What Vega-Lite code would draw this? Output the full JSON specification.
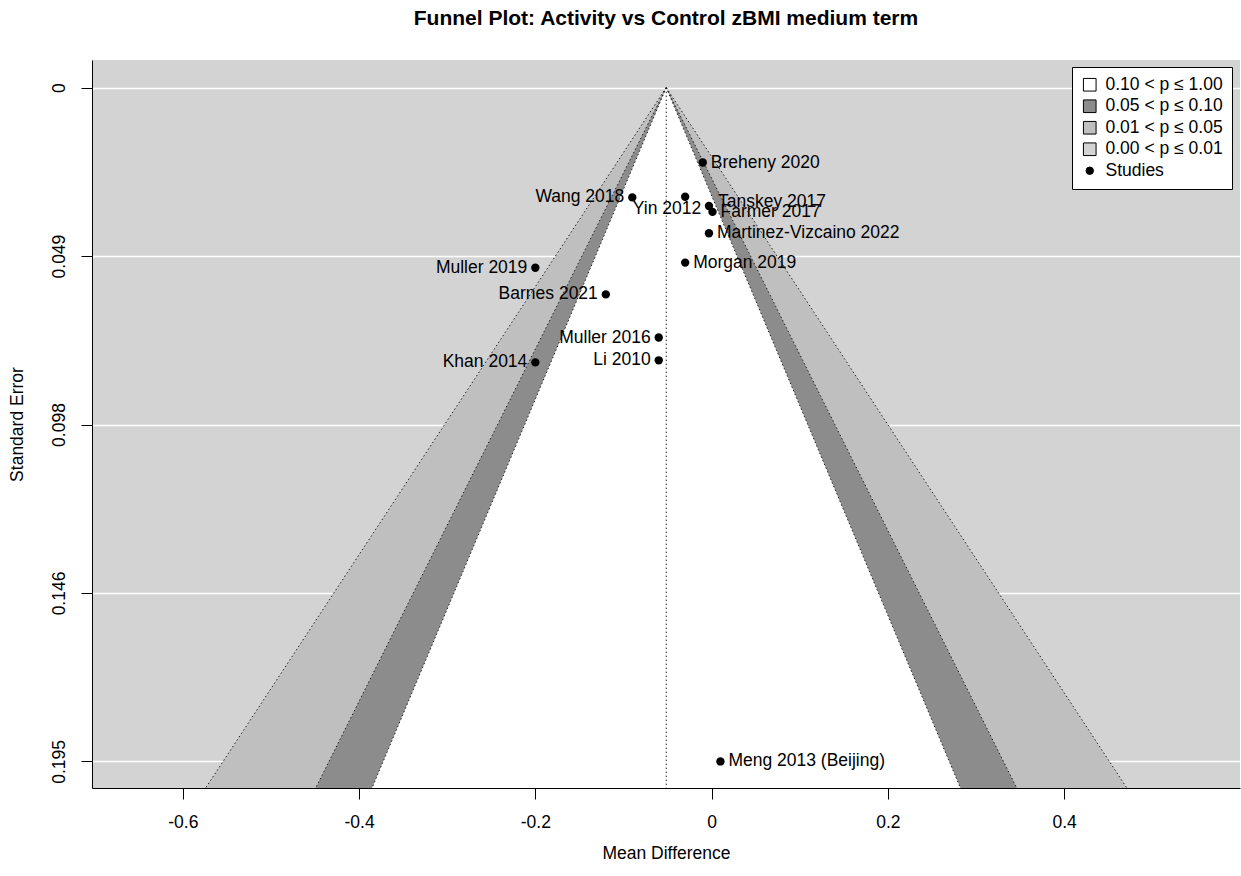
{
  "$schema": "https://vega.github.io/schema/vega-lite/v6.json",
  "width": 1148,
  "height": 728,
  "autosize": {"type": "none"},
  "padding": {"left": 92, "top": 60, "right": 1, "bottom": 88},
  "background": "white",
  "title": {
    "text": "Funnel Plot: Activity vs Control zBMI medium term",
    "font": "Liberation Sans",
    "fontSize": 21,
    "fontWeight": "bold",
    "color": "black",
    "anchor": "middle",
    "frame": "group",
    "baseline": "alphabetic",
    "offset": 14
  },
  "datasets": {
    "regions": [
      {"grp": "0.01 < p ≤ 0.05", "se": 0, "lo": -0.0515, "hi": -0.0515},
      {"grp": "0.01 < p ≤ 0.05", "se": 0.2029, "lo": -0.5741, "hi": 0.4711},
      {"grp": "0.05 < p ≤ 0.10", "se": 0, "lo": -0.0515, "hi": -0.0515},
      {"grp": "0.05 < p ≤ 0.10", "se": 0.2029, "lo": -0.4492, "hi": 0.3462},
      {"grp": "0.10 < p ≤ 1.00", "se": 0, "lo": -0.0515, "hi": -0.0515},
      {"grp": "0.10 < p ≤ 1.00", "se": 0.2029, "lo": -0.3853, "hi": 0.2823}
    ],
    "edges": [
      {"edge": "center", "x": -0.0515, "se": 0},
      {"edge": "center", "x": -0.0515, "se": 0.2029},
      {"edge": "l10", "x": -0.0515, "se": 0},
      {"edge": "l10", "x": -0.3853, "se": 0.2029},
      {"edge": "r10", "x": -0.0515, "se": 0},
      {"edge": "r10", "x": 0.2823, "se": 0.2029},
      {"edge": "l05", "x": -0.0515, "se": 0},
      {"edge": "l05", "x": -0.4492, "se": 0.2029},
      {"edge": "r05", "x": -0.0515, "se": 0},
      {"edge": "r05", "x": 0.3462, "se": 0.2029},
      {"edge": "l01", "x": -0.0515, "se": 0},
      {"edge": "l01", "x": -0.5741, "se": 0.2029},
      {"edge": "r01", "x": -0.0515, "se": 0},
      {"edge": "r01", "x": 0.4711, "se": 0.2029}
    ],
    "studies": [
      {"study": "Breheny 2020", "x": -0.010, "se": 0.0217},
      {"study": "Wang 2018", "x": -0.090, "se": 0.0318},
      {"study": "Yin 2012", "x": -0.030, "se": 0.0316},
      {"study": "Tanskey 2017", "x": -0.003, "se": 0.0343},
      {"study": "Farmer 2017", "x": 0.001, "se": 0.0360},
      {"study": "Martinez-Vizcaino 2022", "x": -0.003, "se": 0.0422},
      {"study": "Morgan 2019", "x": -0.030, "se": 0.0507},
      {"study": "Muller 2019", "x": -0.200, "se": 0.0522},
      {"study": "Barnes 2021", "x": -0.120, "se": 0.0599},
      {"study": "Muller 2016", "x": -0.060, "se": 0.0724},
      {"study": "Li 2010", "x": -0.060, "se": 0.0790},
      {"study": "Khan 2014", "x": -0.200, "se": 0.0796},
      {"study": "Meng 2013 (Beijing)", "x": 0.010, "se": 0.1952}
    ]
  },
  "layer": [
    {
      "data": {"name": "regions"},
      "transform": [{"filter": "datum.grp === '0.01 < p ≤ 0.05'"}],
      "mark": {"type": "area", "orient": "horizontal", "opacity": 1, "fillOpacity": 1},
      "encoding": {
        "y": {"field": "se", "type": "quantitative", "scale": {"domain": [-0.008, 0.2029], "reverse": true, "nice": false, "zero": false},
          "axis": {"values": [0, 0.0488, 0.0976, 0.1464, 0.1952], "labelExpr": "format(datum.value, '.3~f')", "title": "Standard Error"}},
        "x": {"field": "lo", "type": "quantitative", "scale": {"domain": [-0.703, 0.5995], "nice": false, "zero": false},
          "axis": {"values": [-0.6, -0.4, -0.2, 0, 0.2, 0.4], "labelExpr": "'' + datum.value", "title": "Mean Difference"}},
        "x2": {"field": "hi"},
        "fill": {"field": "grp", "type": "nominal",
          "scale": {"domain": ["0.10 < p ≤ 1.00", "0.05 < p ≤ 0.10", "0.01 < p ≤ 0.05", "0.00 < p ≤ 0.01", "Studies"],
                    "range": ["#FFFFFF", "#8C8C8C", "#BFBFBF", "#D3D3D3", "#000000"]},
          "legend": {
            "title": null,
            "encode": {
              "symbols": {
                "update": {
                  "shape": {"signal": "datum.value === 'Studies' ? 'circle' : 'square'"},
                  "size": {"signal": "datum.value === 'Studies' ? 55 : 160"}
                }
              }
            }
          }}
      }
    },
    {
      "data": {"name": "regions"},
      "transform": [{"filter": "datum.grp === '0.05 < p ≤ 0.10'"}],
      "mark": {"type": "area", "orient": "horizontal", "opacity": 1, "fillOpacity": 1},
      "encoding": {
        "y": {"field": "se", "type": "quantitative"},
        "x": {"field": "lo", "type": "quantitative"},
        "x2": {"field": "hi"},
        "fill": {"field": "grp", "type": "nominal"}
      }
    },
    {
      "data": {"name": "regions"},
      "transform": [{"filter": "datum.grp === '0.10 < p ≤ 1.00'"}],
      "mark": {"type": "area", "orient": "horizontal", "opacity": 1, "fillOpacity": 1},
      "encoding": {
        "y": {"field": "se", "type": "quantitative"},
        "x": {"field": "lo", "type": "quantitative"},
        "x2": {"field": "hi"},
        "fill": {"field": "grp", "type": "nominal"}
      }
    },
    {
      "data": {"name": "edges"},
      "mark": {"type": "line", "color": "#222222", "strokeWidth": 1, "strokeDash": [1.5, 2.5]},
      "encoding": {
        "x": {"field": "x", "type": "quantitative"},
        "y": {"field": "se", "type": "quantitative"},
        "detail": {"field": "edge"},
        "order": {"field": "se"}
      }
    },
    {
      "data": {"name": "studies"},
      "mark": {"type": "circle", "color": "black", "opacity": 1, "size": 70},
      "encoding": {
        "x": {"field": "x", "type": "quantitative"},
        "y": {"field": "se", "type": "quantitative"}
      }
    },
    {
      "data": {"name": "studies"},
      "transform": [{"filter": {"field": "study", "oneOf": ["Breheny 2020", "Farmer 2017", "Martinez-Vizcaino 2022", "Morgan 2019", "Meng 2013 (Beijing)"]}}],
      "mark": {"type": "text", "align": "left", "baseline": "middle", "dx": 8, "font": "Liberation Sans", "fontSize": 17.5, "color": "black"},
      "encoding": {
        "x": {"field": "x", "type": "quantitative"},
        "y": {"field": "se", "type": "quantitative"},
        "text": {"field": "study"}
      }
    },
    {
      "data": {"name": "studies"},
      "transform": [{"filter": {"field": "study", "oneOf": ["Wang 2018", "Muller 2019", "Barnes 2021", "Muller 2016", "Li 2010", "Khan 2014"]}}],
      "mark": {"type": "text", "align": "right", "baseline": "middle", "dx": -8, "font": "Liberation Sans", "fontSize": 17.5, "color": "black"},
      "encoding": {
        "x": {"field": "x", "type": "quantitative"},
        "y": {"field": "se", "type": "quantitative"},
        "text": {"field": "study"}
      }
    },
    {
      "data": {"name": "studies"},
      "transform": [{"filter": {"field": "study", "equal": "Tanskey 2017"}}],
      "mark": {"type": "text", "align": "left", "baseline": "middle", "dx": 9, "dy": -4, "font": "Liberation Sans", "fontSize": 17.5, "color": "black"},
      "encoding": {
        "x": {"field": "x", "type": "quantitative"},
        "y": {"field": "se", "type": "quantitative"},
        "text": {"field": "study"}
      }
    },
    {
      "data": {"name": "studies"},
      "transform": [{"filter": {"field": "study", "equal": "Yin 2012"}}],
      "mark": {"type": "text", "align": "right", "baseline": "middle", "dx": 16, "dy": 12, "font": "Liberation Sans", "fontSize": 17.5, "color": "black"},
      "encoding": {
        "x": {"field": "x", "type": "quantitative"},
        "y": {"field": "se", "type": "quantitative"},
        "text": {"field": "study"}
      }
    }
  ],
  "config": {
    "view": {"fill": "#D3D3D3", "stroke": null},
    "axis": {
      "labelFont": "Liberation Sans",
      "labelFontSize": 17.5,
      "labelColor": "black",
      "titleFont": "Liberation Sans",
      "titleFontSize": 17.5,
      "titleFontWeight": "normal",
      "titleColor": "black",
      "domainColor": "black",
      "domainWidth": 1,
      "tickColor": "black",
      "tickWidth": 1,
      "tickSize": 11
    },
    "axisX": {"grid": false, "labelPadding": 14, "titlePadding": 14},
    "axisY": {"grid": true, "gridColor": "white", "gridWidth": 1.5, "gridOpacity": 1,
      "labelAngle": -90, "labelAlign": "center", "labelBaseline": "alphabetic", "labelPadding": 17, "titlePadding": 24},
    "legend": {
      "orient": "none",
      "legendX": 980,
      "legendY": 7,
      "strokeColor": "black",
      "fillColor": "white",
      "padding": 9,
      "labelFont": "Liberation Sans",
      "labelFontSize": 17.5,
      "labelColor": "black",
      "labelLimit": 400,
      "labelOffset": 7,
      "rowPadding": 2.5,
      "symbolType": "square",
      "symbolSize": 160,
      "symbolStrokeColor": "black",
      "symbolStrokeWidth": 1,
      "symbolOpacity": 1
    }
  }
}
